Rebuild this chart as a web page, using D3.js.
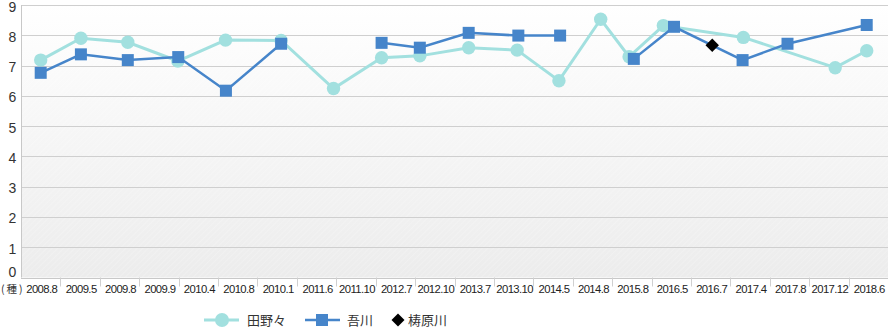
<!DOCTYPE html>
<html><head><meta charset="utf-8">
<script src="https://cdn.jsdelivr.net/npm/d3@7"></script>
<style>html,body{margin:0;padding:0;background:#fff;}svg{display:block;}</style>
</head><body><svg id="c" width="888" height="328"></svg>
<script>
const categories = ["2008.8","2009.5","2009.8","2009.9","2010.4","2010.8","2010.1","2011.6","2011.10","2012.7","2012.10","2013.7","2013.10","2014.5","2014.8","2015.8","2016.5","2016.7","2017.4","2017.8","2017.12","2018.6"];
const yTicks = [0,1,2,3,4,5,6,7,8,9];
const seriesNames = ["田野々","吾川","梼原川"];
// positions along the category axis (category index units)
const tanonoPos = [0,1.02,2.21,3.48,4.69,6.10,7.43,8.65,9.62,10.86,12.09,13.15,14.21,14.93,15.80,17.83,20.16,20.96];
const tanonoValues = [7.18,7.90,7.77,7.15,7.84,7.83,6.24,7.26,7.32,7.59,7.51,6.50,8.53,7.29,8.32,7.93,6.93,7.49];
const agawaPos = [0,1.02,2.21,3.49,4.70,6.10,7.40,8.65,9.62,10.86,12.12,13.18,14.10,15.05,16.07,17.81,18.95,20.96];
const agawaValues = [6.76,7.37,7.18,7.28,6.17,7.72,null,7.75,7.59,8.08,7.99,7.99,null,7.22,8.28,7.18,7.72,8.34];
const yusuharaPos = [17.04];
const yusuharaValues = [7.67];

const svg = d3.select("#c");
const L = 21, R = 888, T = 5, B = 277.5;
const x = d3.scaleBand().domain(categories).range([L, R]);
const xp = d3.scaleLinear().domain([0, categories.length]).range([L, R]);
const y = d3.scaleLinear().domain([0, 9]).range([B, T]);

const defs = svg.append("defs");
const g = defs.append("linearGradient").attr("id","bg").attr("x1",0).attr("y1",0).attr("x2",0).attr("y2",1);
g.append("stop").attr("offset","0%").attr("stop-color","#ffffff");
g.append("stop").attr("offset","100%").attr("stop-color","#ececec");
const pat = defs.append("pattern").attr("id","hatch").attr("width",4).attr("height",4)
  .attr("patternUnits","userSpaceOnUse").attr("patternTransform","rotate(45)");
pat.append("line").attr("x1",0).attr("y1",0).attr("x2",0).attr("y2",4).attr("stroke","#ffffff").attr("stroke-width",1).attr("stroke-opacity",0.35);

svg.append("rect").attr("x",L).attr("y",T).attr("width",R-L).attr("height",B-T).attr("fill","url(#bg)");
svg.append("rect").attr("x",L).attr("y",T).attr("width",R-L).attr("height",B-T).attr("fill","url(#hatch)");

// gridlines
svg.append("g").selectAll("line").data(yTicks.filter(d=>d>0)).join("line")
  .attr("x1",L).attr("x2",R).attr("y1",d=>Math.round(y(d))+0.5).attr("y2",d=>Math.round(y(d))+0.5)
  .attr("stroke","#cfcfcf").attr("stroke-width",1);
// axes lines
svg.append("line").attr("x1",L+0.5).attr("x2",L+0.5).attr("y1",T).attr("y2",B).attr("stroke","#c8c8c8");
svg.append("line").attr("x1",L).attr("x2",R).attr("y1",Math.round(B)+0.5).attr("y2",Math.round(B)+0.5).attr("stroke","#c8c8c8");

// y labels
svg.append("g").selectAll("text").data(yTicks).join("text")
  .attr("x",12.5).attr("y",d=>d===0 ? y(d)-0.5 : y(d)+6.5).attr("text-anchor","middle")
  .attr("font-family","Liberation Sans, Arial, sans-serif").attr("font-size",14).attr("fill","#333")
  .text(d=>d);

// x separators
svg.append("g").selectAll("line").data(categories.slice(1)).join("line")
  .attr("x1",d=>Math.round(x(d))+0.5).attr("x2",d=>Math.round(x(d))+0.5)
  .attr("y1",B).attr("y2",B+9).attr("stroke","#d0d0d0");
// x labels
svg.append("g").selectAll("text").data(categories).join("text")
  .attr("x",d=>x(d)+x.bandwidth()/2+1).attr("y",293).attr("text-anchor","middle")
  .attr("font-family","Liberation Sans, Arial, sans-serif").attr("font-size",11.3).attr("letter-spacing","-0.6")
  .attr("fill","#222").text(d=>d);
svg.append("text").attr("x",1).attr("y",293).attr("font-family","Noto Sans CJK JP, sans-serif")
  .attr("font-size",10.5).attr("letter-spacing","2").attr("fill","#333").text("(種)");

const tColor = "#a2e0df", aColor = "#4685ca";
const line = d3.line().defined(d=>d.v!=null).x(d=>xp(d.p+0.5)).y(d=>y(d.v));
const tData = tanonoPos.map((p,i)=>({p, v:tanonoValues[i]}));
const aData = agawaPos.map((p,i)=>({p, v:agawaValues[i]}));
const yData = yusuharaPos.map((p,i)=>({p, v:yusuharaValues[i]}));

svg.append("path").datum(tData).attr("d",line).attr("fill","none").attr("stroke",tColor).attr("stroke-width",3);
svg.append("g").selectAll("circle").data(tData).join("circle")
  .attr("cx",d=>xp(d.p+0.5)).attr("cy",d=>y(d.v)).attr("r",6.7).attr("fill",tColor);

svg.append("path").datum(aData).attr("d",line).attr("fill","none").attr("stroke",aColor).attr("stroke-width",2.5);
svg.append("g").selectAll("rect").data(aData.filter(d=>d.v!=null)).join("rect")
  .attr("x",d=>xp(d.p+0.5)-6).attr("y",d=>y(d.v)-6).attr("width",12).attr("height",12).attr("fill",aColor);

svg.append("g").selectAll("path").data(yData).join("path")
  .attr("d",d3.symbol(d3.symbolSquare,90)())
  .attr("transform",d=>`translate(${xp(d.p+0.5)},${y(d.v)}) rotate(45)`).attr("fill","#000");

// legend
const lg = svg.append("g").attr("font-family","Noto Sans CJK JP, sans-serif").attr("font-size",13).attr("fill","#333");
lg.append("line").attr("x1",204).attr("x2",239).attr("y1",320).attr("y2",320).attr("stroke",tColor).attr("stroke-width",3);
lg.append("circle").attr("cx",222).attr("cy",320).attr("r",7).attr("fill",tColor);
lg.append("text").attr("x",247).attr("y",325).text(seriesNames[0]);
lg.append("line").attr("x1",305).attr("x2",340).attr("y1",320).attr("y2",320).attr("stroke",aColor).attr("stroke-width",2.5);
lg.append("rect").attr("x",316).attr("y",314).attr("width",12).attr("height",12).attr("fill",aColor);
lg.append("text").attr("x",347).attr("y",325).text(seriesNames[1]);
lg.append("path").attr("d",d3.symbol(d3.symbolSquare,85)()).attr("transform","translate(398,320) rotate(45)").attr("fill","#000");
lg.append("text").attr("x",408).attr("y",325).text(seriesNames[2]);
</script></body></html>
